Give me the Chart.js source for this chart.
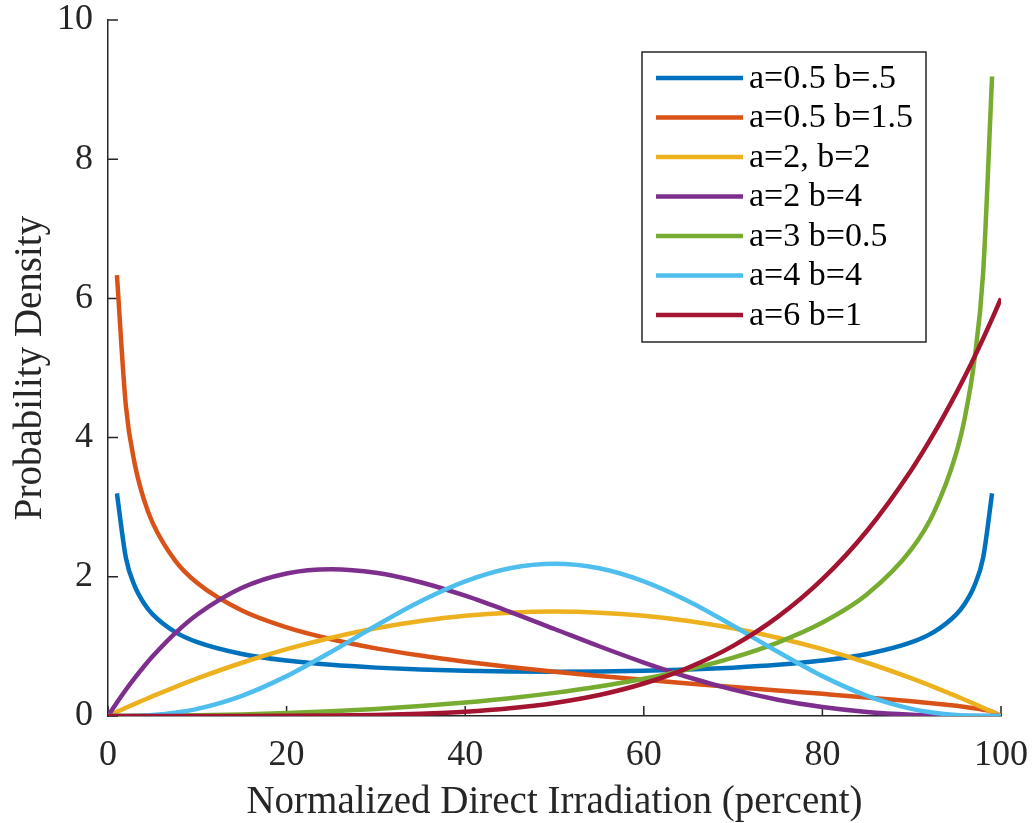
<!DOCTYPE html>
<html>
<head>
<meta charset="utf-8">
<title>Beta densities</title>
<script src="https://cdn.jsdelivr.net/npm/chart.js@4.4.1/dist/chart.umd.min.js"></script>
<style>
  html, body { margin: 0; padding: 0; background: #ffffff; }
  #chart-beta { display: block; }
</style>
</head>
<body>
<canvas id="chart-beta" width="1033" height="823"></canvas>
<script>
const xPercent = [0, 1, 2, 3, 4, 5, 7.5, 10, 15, 20, 25, 30, 35, 40, 45, 50,
  55, 60, 65, 70, 75, 80, 85, 90, 92.5, 95, 96, 97, 98, 99, 100];

// probability density for each curve (null = off the chart / not drawn)
const densA05B05 = [null, 3.199, 2.274, 1.866, 1.624, 1.461, 1.209, 1.061, 0.891, 0.796, 0.735, 0.695, 0.667, 0.650, 0.640, 0.637,
  0.640, 0.650, 0.667, 0.695, 0.735, 0.796, 0.891, 1.061, 1.209, 1.461, 1.624, 1.866, 2.274, 3.199, null];
const densA05B15 = [null, 6.334, 4.456, 3.620, 3.119, 2.775, 2.236, 1.910, 1.515, 1.273, 1.103, 0.972, 0.868, 0.780, 0.704, 0.637,
  0.576, 0.520, 0.467, 0.417, 0.368, 0.318, 0.267, 0.212, 0.181, 0.146, 0.130, 0.112, 0.091, 0.064, 0];
const densA2B2 = [0, 0.059, 0.118, 0.175, 0.230, 0.285, 0.416, 0.540, 0.765, 0.960, 1.125, 1.260, 1.365, 1.440, 1.485, 1.500,
  1.485, 1.440, 1.365, 1.260, 1.125, 0.960, 0.765, 0.540, 0.416, 0.285, 0.230, 0.175, 0.118, 0.059, 0];
const densA2B4 = [0, 0.194, 0.377, 0.548, 0.708, 0.857, 1.187, 1.458, 1.842, 2.048, 2.109, 2.058, 1.922, 1.728, 1.497, 1.250,
  1.002, 0.768, 0.557, 0.378, 0.234, 0.128, 0.057, 0.018, 0.008, 0.002, 0.001, 0.001, 0, 0, 0];
const densA3B05 = [0, 0, 0, 0.001, 0.002, 0.002, 0.006, 0.010, 0.023, 0.042, 0.068, 0.101, 0.142, 0.194, 0.256, 0.332,
  0.423, 0.534, 0.670, 0.839, 1.055, 1.342, 1.749, 2.401, 2.929, 3.784, 4.320, 5.093, 6.367, 9.188, null];
const densA4B4 = [0, 0, 0.001, 0.003, 0.008, 0.015, 0.047, 0.102, 0.290, 0.573, 0.923, 1.297, 1.649, 1.935, 2.123, 2.188,
  2.123, 1.935, 1.649, 1.297, 0.923, 0.573, 0.290, 0.102, 0.047, 0.015, 0.008, 0.003, 0.001, 0, 0];
const densA6B1 = [0, 0, 0, 0, 0, 0, 0, 0, 0.0005, 0.002, 0.006, 0.015, 0.032, 0.061, 0.111, 0.188,
  0.302, 0.467, 0.696, 1.008, 1.424, 1.966, 2.662, 3.543, 4.063, 4.643, 4.892, 5.152, 5.424, 5.706, 6.0];

const seriesLabels = ['a=0.5 b=.5', 'a=0.5 b=1.5', 'a=2, b=2', 'a=2 b=4', 'a=3 b=0.5', 'a=4 b=4', 'a=6 b=1'];
const seriesValues = [densA05B05, densA05B15, densA2B2, densA2B4, densA3B05, densA4B4, densA6B1];

// tick labels
const xTickValues = [0, 20, 40, 60, 80, 100];
const yTickValues = [0, 2, 4, 6, 8, 10];

// MATLAB default line colours
const lineColors = ['#0072BD', '#D95319', '#EDB120', '#7E2F8E', '#77AC30', '#4DBEEE', '#A2142F'];
const axisColor = '#262626';
const serif = "'Liberation Serif', 'DejaVu Serif', serif";

/**
 * Inward tick marks, drawn under the curves like MATLAB does
 */
const inwardTicks = {
  id: 'inwardTicks',
  beforeDatasetsDraw(chart) {
    const { ctx, chartArea, scales } = chart;
    ctx.save();
    ctx.strokeStyle = axisColor;
    ctx.lineWidth = 1.5;
    ctx.beginPath();
    xTickValues.forEach(function(v) {
      const px = scales.x.getPixelForValue(v);
      ctx.moveTo(px, chartArea.bottom);
      ctx.lineTo(px, chartArea.bottom - 10);
    });
    yTickValues.forEach(function(v) {
      const py = scales.y.getPixelForValue(v);
      ctx.moveTo(chartArea.left, py);
      ctx.lineTo(chartArea.left + 10, py);
    });
    ctx.stroke();
    ctx.restore();
  }
};

/**
 * Boxed legend in the upper right, on top of the curves
 */
const boxLegend = {
  id: 'boxLegend',
  afterDatasetsDraw(chart) {
    const { ctx, chartArea } = chart;
    const boxLeft = chartArea.right - 359;
    const boxTop = chartArea.top + 32;
    const boxW = 284;
    const boxH = 290;
    const rowGap = 39.5;

    ctx.save();
    ctx.fillStyle = '#ffffff';
    ctx.fillRect(boxLeft, boxTop, boxW, boxH);
    ctx.strokeStyle = axisColor;
    ctx.lineWidth = 1.5;
    ctx.strokeRect(boxLeft, boxTop, boxW, boxH);

    ctx.font = '34px ' + serif;
    ctx.textAlign = 'left';
    ctx.textBaseline = 'middle';
    seriesLabels.forEach(function(label, i) {
      const rowY = boxTop + 26 + i * rowGap;
      ctx.strokeStyle = lineColors[i];
      ctx.lineWidth = 4.5;
      ctx.beginPath();
      ctx.moveTo(boxLeft + 14, rowY);
      ctx.lineTo(boxLeft + 101, rowY);
      ctx.stroke();
      ctx.fillStyle = '#000000';
      ctx.fillText(label, boxLeft + 107, rowY + 1);
    });
    ctx.restore();
  }
};

document.addEventListener('DOMContentLoaded', function() {
  initBetaChart();
});

function initBetaChart() {
  const ctx = document.getElementById('chart-beta');
  if (!ctx) return;

  const datasets = seriesValues.map(function(values, i) {
    return {
      label: seriesLabels[i],
      data: xPercent.map(function(x, j) { return { x: x, y: values[j] }; }),
      borderColor: lineColors[i],
      backgroundColor: lineColors[i],
      borderWidth: 4.5,
      pointRadius: 0,
      fill: false,
      cubicInterpolationMode: 'monotone',
      order: seriesLabels.length - i // later series on top
    };
  });

  new Chart(ctx, {
    type: 'line',
    data: { datasets: datasets },
    options: {
      responsive: false,
      animation: false,
      events: [],
      layout: {
        padding: { top: 20, right: 32, left: 0, bottom: 0 }
      },
      plugins: {
        legend: { display: false },
        tooltip: { enabled: false }
      },
      scales: {
        x: {
          type: 'linear',
          min: 0,
          max: 100,
          afterBuildTicks: function(scale) {
            scale.ticks = xTickValues.map(function(v) { return { value: v }; });
          },
          afterFit: function(scale) { scale.height = 107; },
          // tickLength only offsets the labels; the marks themselves come from inwardTicks
          grid: { display: false, drawTicks: true, tickLength: 22 },
          border: { display: true, color: axisColor, width: 1.5 },
          ticks: {
            padding: 0,
            color: axisColor,
            maxRotation: 0,
            font: { family: serif, size: 36, lineHeight: 1 }
          },
          title: {
            display: true,
            text: 'Normalized Direct Irradiation (percent)',
            color: axisColor,
            padding: { top: 0, bottom: 1 },
            font: { family: serif, size: 39, lineHeight: 1 }
          }
        },
        y: {
          type: 'linear',
          min: 0,
          max: 10,
          afterBuildTicks: function(scale) {
            scale.ticks = yTickValues.map(function(v) { return { value: v }; });
          },
          afterFit: function(scale) { scale.width = 108; },
          grid: { display: false, drawTicks: true, tickLength: 15 },
          border: { display: true, color: axisColor, width: 1.5 },
          ticks: {
            padding: 0,
            color: axisColor,
            font: { family: serif, size: 36, lineHeight: 1 }
          },
          title: {
            display: true,
            text: 'Probability Density',
            color: axisColor,
            padding: { top: 11, bottom: 0 },
            font: { family: serif, size: 39, lineHeight: 1 }
          }
        }
      }
    },
    plugins: [inwardTicks, boxLegend]
  });
}
</script>
</body>
</html>
